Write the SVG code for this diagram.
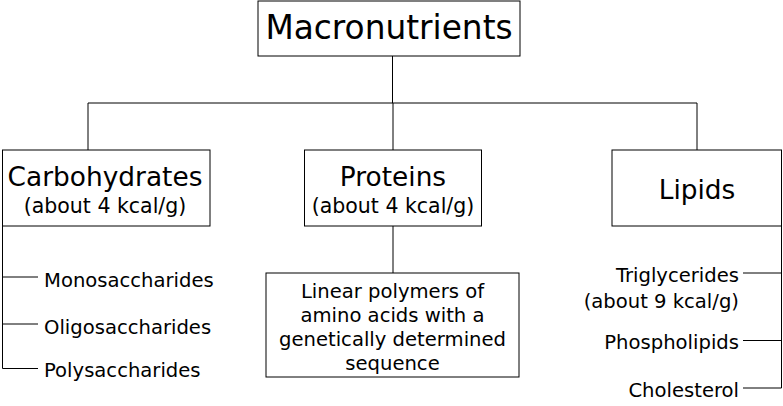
<svg xmlns="http://www.w3.org/2000/svg" width="783" height="406" viewBox="0 0 783 406">
<style>
.box{fill:#fff;stroke:#000;stroke-width:1}
.ln{fill:none;stroke:#000;stroke-width:1}
text{font-family:"DejaVu Sans","Verdana",sans-serif;fill:#000}
.t1{font-size:32.8px;text-anchor:middle}
.t2{font-size:26.4px;text-anchor:middle}
.t3{font-size:20.5px;text-anchor:middle}
.s{font-size:19.6px}
.e{text-anchor:end}
</style>
<rect width="783" height="406" fill="#fff"/>
<g id="connectors">
<path class="ln" d="M392.5 56V103M88 103H697M88 103V150M393 103V150M697 103V150"/>
<path class="ln" d="M393 226V273"/>
<path class="ln" d="M2.5 226V368.5M2.5 277H38M2.5 324H38M2.5 368.5H38"/>
<path class="ln" d="M781.5 226V388M743 273H781.5M743 340.5H781.5M743 388H781.5"/>
</g>
<g id="macronutrients">
<rect class="box" x="258" y="1" width="262" height="55"/>
<text class="t1" x="389" y="39">Macronutrients</text>
</g>
<g id="carbohydrates">
<rect class="box" x="2.5" y="150" width="207.5" height="76"/>
<text class="t2" x="105" y="186">Carbohydrates</text>
<text class="t3" x="105" y="213">(about 4 kcal/g)</text>
</g>
<g id="proteins">
<rect class="box" x="304.5" y="150" width="177" height="76"/>
<text class="t2" x="393" y="186">Proteins</text>
<text class="t3" x="393" y="213">(about 4 kcal/g)</text>
</g>
<g id="lipids">
<rect class="box" x="612" y="150" width="169.5" height="76"/>
<text class="t2" x="697" y="199">Lipids</text>
</g>
<g id="protein-desc">
<rect class="box" x="266" y="273" width="253" height="104"/>
<text class="t3 s" x="392.5" y="297.5">Linear polymers of</text>
<text class="t3 s" x="392.5" y="321.5">amino acids with a</text>
<text class="t3 s" x="392.5" y="346">genetically determined</text>
<text class="t3 s" x="392.5" y="370">sequence</text>
</g>
<g id="monosaccharides"><text class="s" x="44" y="287">Monosaccharides</text></g>
<g id="oligosaccharides"><text class="s" x="44" y="334">Oligosaccharides</text></g>
<g id="polysaccharides"><text class="s" x="44" y="377">Polysaccharides</text></g>
<g id="triglycerides"><text class="s e" x="739" y="282">Triglycerides</text><text class="s e" x="739" y="308">(about 9 kcal/g)</text></g>
<g id="phospholipids"><text class="s e" x="739" y="349">Phospholipids</text></g>
<g id="cholesterol"><text class="s e" x="739" y="397">Cholesterol</text></g>
</svg>
